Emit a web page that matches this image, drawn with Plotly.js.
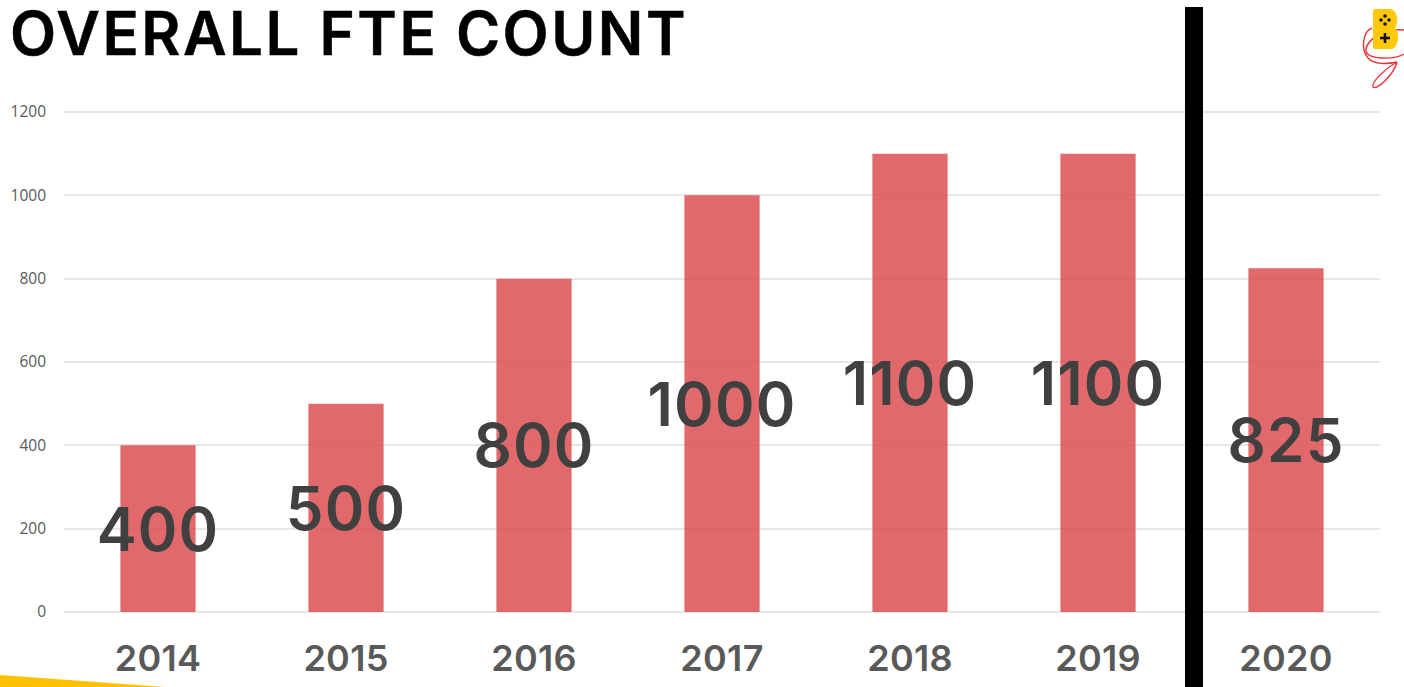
<!DOCTYPE html>
<html>
<head>
<meta charset="utf-8">
<script src="https://cdn.plot.ly/plotly-3.0.1.min.js"></script>
<style>
html,body{margin:0;padding:0;background:#fff;overflow:hidden}
#chart{width:1404px;height:687px}
.gtitle{letter-spacing:2.5px;stroke:#000;stroke-width:.5px}
.bartext{letter-spacing:1.2px}
.xtick text{letter-spacing:.3px}
</style>
</head>
<body>
<div id="chart"></div>
<script>
const years = ['2014', '2015', '2016', '2017', '2018', '2019', '2020'];
const fteCounts = [400, 500, 800, 1000, 1100, 1100, 825];
const yTicks = [0, 200, 400, 600, 800, 1000, 1200];
const heading = 'OVERALL FTE COUNT';

const W = 1404, H = 687;
const margin = {l: 64, r: 24, t: 110, b: 75, pad: 0};
// Page pixels to paper fractions, for decoration placed outside the plot area
const px = x => (x - margin.l) / (W - margin.l - margin.r);
const py = y => 1 - (y - margin.t) / (H - margin.t - margin.b);
const pathOf = pts => pts.map((p, i) => {
  if (p.length === 6) return `C${px(p[0])},${py(p[1])} ${px(p[2])},${py(p[3])} ${px(p[4])},${py(p[5])}`;
  return `${i ? 'L' : 'M'}${px(p[0])},${py(p[1])}`;
}).join(' ');
const paperShape = (path, fill, line) => ({
  type: 'path', xref: 'paper', yref: 'paper', layer: 'above', path,
  fillcolor: fill, line: line || {width: 0}
});
const none = 'rgba(0,0,0,0)';
const red = {color: '#e8333a', width: 1.4};

const shapes = [
  // Divider before the latest year
  {type: 'rect', xref: 'paper', yref: 'paper', layer: 'above', x0: px(1185), x1: px(1203), y0: py(7), y1: py(687),
   fillcolor: '#000', line: {width: 0}},
  // Yellow corner wedge
  paperShape(pathOf([[0, 675], [165, 687], [0, 687]]) + ' Z', '#ffc000'),
  // Red scribble behind the badge
  paperShape(pathOf([[1372, 28], [1362, 32, 1361, 50, 1368, 58], [1374, 65, 1388, 64, 1397, 62]]), none, red),
  paperShape(pathOf([[1404, 30], [1390, 28, 1366, 38, 1366, 50], [1366, 60, 1394, 60, 1404, 54]]), none, red),
  paperShape(pathOf([[1397, 62], [1386, 68, 1371, 82, 1373, 87], [1377, 91, 1394, 74, 1397, 62]]), none, red),
  // Yellow badge
  paperShape(pathOf([[1375, 9], [1391, 9], [1398, 11, 1399, 24, 1395, 28], [1400, 32, 1399, 47, 1392, 49], [1375, 49], [1373, 49, 1373, 47, 1373, 47], [1373, 11], [1373, 9, 1375, 9, 1375, 9]]) + ' Z', '#ffc90a'),
  // Plus on the badge
  paperShape(pathOf([[1380, 38], [1390, 38]]), none, {color: '#111', width: 2.6}),
  paperShape(pathOf([[1385, 33], [1385, 43]]), none, {color: '#111', width: 2.6})
];
// Four dots of the badge's d-pad
[[1385, 16], [1385, 24], [1381, 20], [1389, 20]].forEach(([x, y]) => shapes.push({
  type: 'circle', xref: 'paper', yref: 'paper', layer: 'above',
  x0: px(x - 1.8), x1: px(x + 1.8), y0: py(y + 1.8), y1: py(y - 1.8), fillcolor: '#111', line: {width: 0}
}));

const trace = {
  type: 'bar',
  x: years,
  y: fteCounts,
  text: fteCounts.map(String),
  texttemplate: '%{text}',
  textposition: 'inside',
  insidetextanchor: 'middle',
  constraintext: 'none',
  textangle: 0,
  insidetextfont: {family: 'Inter, sans-serif', size: 60, color: '#404040', weight: 600},
  cliponaxis: false,
  width: 0.4,
  marker: {color: 'rgba(220,80,84,0.86)', line: {width: 0}},
  hoverinfo: 'x+y'
};

const layout = {
  width: W,
  height: H,
  margin,
  paper_bgcolor: '#fff',
  plot_bgcolor: '#fff',
  showlegend: false,
  bargap: 0.6,
  title: {
    text: heading, xref: 'container', yref: 'container', x: 10 / W, xanchor: 'left', y: 1 - 33.5 / H, yanchor: 'middle',
    font: {family: 'Inter, sans-serif', size: 60, color: '#000', weight: 600}, pad: {t: 0, b: 0, l: 0, r: 0}
  },
  xaxis: {
    type: 'category', categoryorder: 'array', categoryarray: years,
    showgrid: false, zeroline: false, showline: false, ticks: '', ticklen: 0, ticklabelstandoff: 22,
    tickfont: {family: 'Inter, sans-serif', size: 36, color: '#595959', weight: 600}
  },
  yaxis: {
    // Headroom above 1200 keeps the top gridline from being dropped at the axis end
    range: [0, 1204.8], tickmode: 'array', tickvals: yTicks, ticktext: yTicks.map(String),
    showline: false, ticks: '', zeroline: true, zerolinecolor: '#e6e6e6', zerolinewidth: 1.5,
    showgrid: true, gridcolor: '#e6e6e6', gridwidth: 1.5, automargin: false, ticklabelstandoff: 17,
    tickfont: {family: '"Open Sans", sans-serif', size: 15.5, color: '#595959'}
  },
  shapes
};

Plotly.newPlot('chart', [trace], layout, {displayModeBar: false, responsive: false});
</script>
</body>
</html>
